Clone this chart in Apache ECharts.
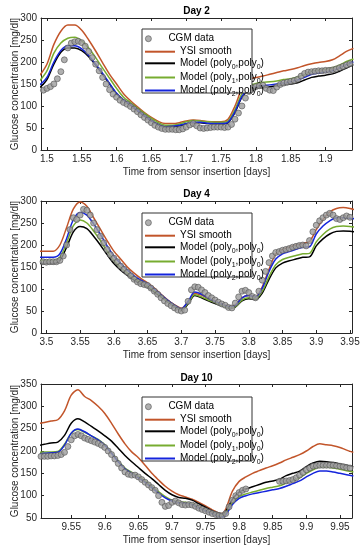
<!DOCTYPE html>
<html><head><meta charset="utf-8">
<script src="https://cdn.jsdelivr.net/npm/echarts@6/dist/echarts.min.js"></script>
<style>html,body{margin:0;padding:0;background:#fff}#c{width:363px;height:550px}</style>
</head><body><div id="c"></div>
<script>
// ---------------- DATA ----------------
const panelTitles = ['Day 2', 'Day 4', 'Day 10'];
const seriesNames = ['CGM data', 'YSI smooth', 'Model (poly0,poly0)', 'Model (poly1,poly0)', 'Model (poly2,poly0)'];
const xTitle = 'Time from sensor insertion [days]';
const yTitle = 'Glucose concentration [mg/dl]';
const xRanges = [[1.4915, 1.938], [3.492, 3.953], [9.505, 9.968]];
const yRanges = [[0, 300], [0, 300], [50, 350]];
const yStep = 50;

// Day 2
const day2Time = [1.49,1.50,1.51,1.52,1.53,1.54,1.55,1.56,1.57,1.58,1.59,1.60,1.61,1.62,1.63,1.64,1.65,1.66,1.67,1.68,1.69,1.70,1.71,1.72,1.73,1.74,1.75,1.76,1.77,1.78,1.79,1.80,1.81,1.82,1.83,1.84,1.85,1.86,1.87,1.88,1.89,1.90,1.91,1.92,1.93,1.94];
const day2YSI   = [170,195,240,270,284,284,272,250,225,198,172,150,128,112,98,85,74,65,60,60,62,66,68,67,65,64,64,70,100,140,160,165,168,172,176,180,183,187,192,196,199,201,205,214,224,231];
const day2Poly0 = [142,160,195,222,232,232,226,212,193,172,150,128,113,102,89,77,66,57,52,53,55,59,62,62,60,59,59,62,85,120,137,141,142,144,146,148,150,153,159,165,168,170,173,179,186,194];
const day2Poly1 = [158,180,220,243,254,256,248,232,210,186,163,140,120,108,95,83,72,62,56,56,59,64,67,66,64,63,63,66,92,128,146,151,154,155,157,160,162,166,172,179,182,184,187,193,201,207];
const day2Poly2 = [148,165,200,226,237,237,230,215,195,174,151,129,114,103,90,78,67,58,53,54,56,60,63,63,61,60,60,63,87,122,139,144,146,148,150,152,155,159,165,172,175,177,180,186,194,200];
const day2CGM = [[1.490,133],[1.495,136],[1.500,140],[1.505,144],[1.510,150],[1.515,162],[1.520,178],[1.525,205],[1.530,232],[1.535,243],[1.540,246],[1.545,247],[1.550,244],[1.555,236],[1.560,224],[1.565,210],[1.570,195],[1.575,180],[1.580,165],[1.585,150],[1.590,137],[1.595,127],[1.600,120],[1.605,113],[1.610,108],[1.615,104],[1.620,99],[1.625,93],[1.630,87],[1.635,80],[1.640,74],[1.645,68],[1.650,62],[1.655,56],[1.660,52],[1.665,49],[1.670,47],[1.675,47],[1.680,47],[1.685,46],[1.690,46],[1.695,48],[1.700,52],[1.705,57],[1.710,60],[1.715,55],[1.720,50],[1.725,49],[1.730,50],[1.735,51],[1.740,52],[1.745,52],[1.750,52],[1.755,51],[1.760,52],[1.765,58],[1.770,70],[1.775,84],[1.780,100],[1.785,118],[1.790,133],[1.795,141],[1.800,144],[1.805,146],[1.810,147],[1.815,140],[1.820,136],[1.825,135],[1.830,143],[1.835,149],[1.840,152],[1.845,154],[1.850,156],[1.855,158],[1.860,161],[1.865,168],[1.870,174],[1.875,177],[1.880,178],[1.885,179],[1.890,180],[1.895,180],[1.900,181],[1.905,181],[1.910,182],[1.915,184],[1.920,187],[1.925,190],[1.930,193],[1.935,196]];

// Day 4
const day4Time = [3.49,3.50,3.51,3.52,3.53,3.54,3.55,3.56,3.57,3.58,3.59,3.60,3.61,3.62,3.63,3.64,3.65,3.66,3.67,3.68,3.69,3.70,3.71,3.72,3.73,3.74,3.75,3.76,3.77,3.78,3.79,3.80,3.81,3.82,3.83,3.84,3.85,3.86,3.87,3.88,3.89,3.90,3.91,3.92,3.93,3.94,3.95,3.96];
const day4YSI   = [186,186,186,200,240,282,298,288,262,236,210,186,168,150,136,124,114,102,88,75,64,56,70,90,86,78,72,66,61,64,80,85,82,105,145,180,190,195,200,204,208,235,258,275,283,285,283,279];
const day4Poly0 = [158,158,158,165,195,230,242,237,220,200,178,158,143,131,120,111,104,93,82,70,60,52,66,85,80,73,67,62,57,59,73,78,76,91,122,148,159,164,168,172,173,198,214,225,231,232,231,229];
const day4Poly1 = [165,165,165,172,205,244,257,250,232,210,186,165,149,136,124,115,107,96,84,71,61,53,68,87,82,75,69,63,58,60,75,80,78,95,128,155,167,172,176,180,181,207,224,236,242,243,242,240];
const day4Poly2 = [172,172,172,180,215,258,274,268,248,224,198,175,158,143,130,120,112,100,87,74,63,55,72,93,88,79,72,66,60,63,80,85,82,102,140,168,180,185,190,195,196,225,243,255,262,262,261,259];
const day4CGM = [[3.490,162],[3.495,162],[3.500,161],[3.505,162],[3.510,162],[3.515,162],[3.520,165],[3.525,175],[3.530,200],[3.535,235],[3.540,262],[3.545,258],[3.550,268],[3.555,281],[3.560,279],[3.565,268],[3.570,250],[3.575,235],[3.580,220],[3.585,205],[3.590,190],[3.595,178],[3.600,170],[3.605,162],[3.610,152],[3.615,145],[3.620,138],[3.625,130],[3.630,122],[3.635,116],[3.640,112],[3.645,110],[3.650,108],[3.655,102],[3.660,95],[3.665,88],[3.670,80],[3.675,73],[3.680,67],[3.685,62],[3.690,57],[3.695,52],[3.700,50],[3.705,52],[3.710,72],[3.715,98],[3.720,105],[3.725,104],[3.730,98],[3.735,92],[3.740,85],[3.745,80],[3.750,75],[3.755,70],[3.760,66],[3.765,63],[3.770,58],[3.775,57],[3.780,68],[3.785,82],[3.790,95],[3.795,97],[3.800,92],[3.805,83],[3.810,80],[3.815,95],[3.820,120],[3.825,140],[3.830,160],[3.835,175],[3.840,183],[3.845,185],[3.850,188],[3.855,190],[3.860,192],[3.865,195],[3.870,197],[3.875,199],[3.880,200],[3.885,198],[3.890,210],[3.895,230],[3.900,245],[3.905,255],[3.910,262],[3.915,268],[3.920,272],[3.925,268],[3.930,260],[3.935,258],[3.940,262],[3.945,266],[3.950,263]];

// Day 10
const day10Time = [9.50,9.51,9.52,9.53,9.54,9.55,9.56,9.57,9.58,9.59,9.60,9.61,9.62,9.63,9.64,9.65,9.66,9.67,9.68,9.69,9.70,9.71,9.72,9.73,9.74,9.75,9.76,9.77,9.775,9.78,9.79,9.80,9.81,9.82,9.83,9.84,9.85,9.86,9.87,9.88,9.89,9.90,9.91,9.92,9.93,9.94,9.95,9.96,9.97];
const day10YSI   = [261,264,267,270,290,325,337,322,313,300,284,262,238,216,198,185,168,150,135,121,110,102,97,92,85,77,68,61,60,70,110,132,142,150,156,162,167,173,180,186,192,200,210,216,214,212,208,202,197];
const day10Poly0 = [212,215,218,220,235,262,272,265,255,245,234,222,206,190,176,163,150,138,125,112,102,96,94,90,82,74,66,60,59,65,92,108,115,120,125,130,133,137,145,150,155,165,173,177,176,174,171,168,165];
const day10Poly1 = [197,198,198,199,215,240,248,242,234,226,214,196,178,162,152,143,133,121,109,98,90,86,85,82,75,68,62,55,54,60,84,98,104,108,112,116,119,122,128,134,140,150,158,164,164,162,159,156,153];
const day10Poly2 = [193,195,196,197,213,240,249,243,234,225,213,195,176,160,150,140,130,118,106,95,88,84,83,80,73,66,60,53,52,57,80,94,100,104,107,110,113,116,121,127,133,142,150,155,155,153,150,147,144];
const day10CGM = [[9.505,188],[9.510,188],[9.515,188],[9.520,189],[9.525,189],[9.530,190],[9.535,192],[9.540,197],[9.545,210],[9.550,225],[9.555,234],[9.560,237],[9.565,234],[9.570,229],[9.575,226],[9.580,223],[9.585,220],[9.590,217],[9.595,213],[9.600,208],[9.605,200],[9.610,192],[9.615,182],[9.620,172],[9.625,162],[9.630,153],[9.635,148],[9.640,146],[9.645,146],[9.650,142],[9.655,136],[9.660,130],[9.665,124],[9.670,118],[9.675,112],[9.680,100],[9.685,85],[9.690,76],[9.695,78],[9.700,85],[9.705,88],[9.710,84],[9.715,80],[9.720,79],[9.725,80],[9.730,79],[9.735,76],[9.740,72],[9.745,69],[9.750,66],[9.755,63],[9.760,60],[9.765,58],[9.770,56],[9.775,55],[9.780,60],[9.785,75],[9.790,90],[9.795,100],[9.800,107],[9.805,112],[9.810,115],[9.860,132],[9.865,132],[9.870,133],[9.875,134],[9.880,136],[9.885,140],[9.890,146],[9.895,152],[9.900,158],[9.905,162],[9.910,166],[9.915,167],[9.920,168],[9.925,168],[9.930,168],[9.935,168],[9.940,168],[9.945,167],[9.950,166],[9.955,165],[9.960,163],[9.965,162]];

const panels = [
  {time: day2Time, lines: [day2YSI, day2Poly0, day2Poly1, day2Poly2], cgm: day2CGM},
  {time: day4Time, lines: [day4YSI, day4Poly0, day4Poly1, day4Poly2], cgm: day4CGM},
  {time: day10Time, lines: [day10YSI, day10Poly0, day10Poly1, day10Poly2], cgm: day10CGM}
];

// ---------------- STYLE / LAYOUT ----------------
const FONT = '"Liberation Sans", Arial, Helvetica, sans-serif';
const AX = '#262626';
const lineColors = ['#C2552A', '#000000', '#77AC30', '#1424DC'];
const gridTops = [18, 201, 384];
const gridHeights = [132, 132, 134];
const gridLeft = 41, gridWidth = 311;
const titleTops = [6.5, 189.5, 373];
const legendBoxTops = [28, 212, 396];
const legendRowOffsets = [6.7, 17.7, 29.3, 43.5, 56.5];

const grid = [], xAxis = [], yAxis = [], series = [], legend = [], title = [], graphicEls = [];

panels.forEach((p, i) => {
  grid.push({left: gridLeft, top: gridTops[i], width: gridWidth, height: gridHeights[i], containLabel: false, outerBoundsMode: 'none'});
  xAxis.push({
    type: 'value', gridIndex: i, min: xRanges[i][0], max: xRanges[i][1], splitNumber: 9, position: 'bottom',
    axisLine: {show: true, onZero: false, lineStyle: {color: AX, width: 1}},
    axisTick: {show: true, inside: true, length: 3, lineStyle: {color: AX, width: 1}},
    splitLine: {show: false},
    axisLabel: {fontSize: 10, color: AX, margin: 4, fontFamily: FONT, showMinLabel: false, showMaxLabel: false},
    name: xTitle, nameLocation: 'middle', nameGap: 17,
    nameTextStyle: {fontSize: 10, color: AX, fontFamily: FONT}
  });
  yAxis.push({
    type: 'value', gridIndex: i, min: yRanges[i][0], max: yRanges[i][1], interval: yStep, position: 'left',
    axisLine: {show: true, onZero: false, lineStyle: {color: AX, width: 1}},
    axisTick: {show: true, inside: true, length: 3, lineStyle: {color: AX, width: 1}},
    splitLine: {show: false},
    axisLabel: {fontSize: 10, color: AX, margin: 4, fontFamily: FONT},
    name: yTitle, nameLocation: 'middle', nameGap: 21, nameMoveOverlap: false,
    nameTextStyle: {fontSize: 10, color: AX, fontFamily: FONT}
  });
  title.push({
    text: panelTitles[i], left: gridLeft + gridWidth / 2, top: titleTops[i], textAlign: 'center', padding: 0,
    textStyle: {fontSize: 10, fontWeight: 'bold', color: '#000', fontFamily: FONT}
  });

  series.push({
    name: seriesNames[0], type: 'scatter', xAxisIndex: i, yAxisIndex: i, data: p.cgm, symbol: 'circle', symbolSize: 6,
    itemStyle: {color: '#9c9c9c', borderColor: '#555555', borderWidth: 0.8}, z: 2, clip: true
  });
  p.lines.forEach((vals, k) => {
    series.push({
      name: seriesNames[k + 1], type: 'line', xAxisIndex: i, yAxisIndex: i,
      data: p.time.map((t, j) => [t, vals[j]]), symbol: 'none', showSymbol: false, smooth: 0.3, clip: true,
      lineStyle: {color: lineColors[k], width: 1.5}, itemStyle: {color: lineColors[k]}, z: 2
    });
  });

  graphicEls.push({
    type: 'rect', left: 141.5, top: legendBoxTops[i] + 0.5, z: 3,
    shape: {width: 110, height: 64},
    style: {fill: '#fff', stroke: '#333', lineWidth: 1}
  });
  seriesNames.forEach((nm, j) => {
    const isCGM = j === 0;
    const ih = isCGM ? 6 : 2;
    legend.push({
      data: [{name: nm, icon: isCGM ? 'circle' : 'rect'}],
      left: 145, top: legendBoxTops[i] + legendRowOffsets[j] - ih / 2,
      itemWidth: 30, itemHeight: ih, padding: 0, selectedMode: false, z: 10,
      itemStyle: isCGM ? {color: '#9c9c9c', borderColor: '#555555', borderWidth: 0.8} : {borderWidth: 0},
      formatter: n => n.replace(/poly(\d)/g, 'poly{s|$1}'),
      textStyle: {fontSize: 10, color: '#000', fontFamily: FONT, lineHeight: 14,
        rich: {s: {fontSize: 7, lineHeight: 7, verticalAlign: 'bottom', fontFamily: FONT, color: '#000'}}}
    });
  });
});

// top and right "box" axes
panels.forEach((p, i) => {
  xAxis.push({
    type: 'value', gridIndex: i, position: 'top', min: xRanges[i][0], max: xRanges[i][1], splitNumber: 9,
    axisLine: {show: true, onZero: false, lineStyle: {color: AX, width: 1}},
    axisTick: {show: true, inside: true, length: 3, lineStyle: {color: AX, width: 1}},
    axisLabel: {show: false}, splitLine: {show: false}
  });
  yAxis.push({
    type: 'value', gridIndex: i, position: 'right', min: yRanges[i][0], max: yRanges[i][1], interval: yStep,
    axisLine: {show: true, onZero: false, lineStyle: {color: AX, width: 1}},
    axisTick: {show: true, inside: true, length: 3, lineStyle: {color: AX, width: 1}},
    axisLabel: {show: false}, splitLine: {show: false}
  });
});

const chart = echarts.init(document.getElementById('c'), null, {renderer: 'canvas'});
chart.setOption({
  animation: false,
  backgroundColor: '#fff',
  title, grid, xAxis, yAxis, series, legend,
  graphic: {elements: graphicEls}
});
</script></body></html>
